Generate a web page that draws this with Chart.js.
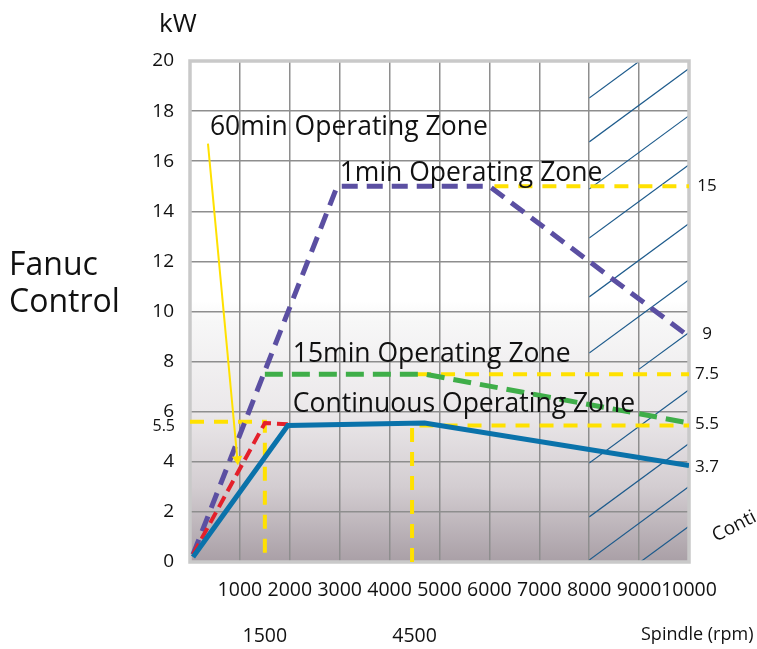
<!DOCTYPE html>
<html>
<head>
<meta charset="utf-8">
<script src="https://cdn.jsdelivr.net/npm/chart.js@4.4.0/dist/chart.umd.min.js"></script>
<style>
  html, body { margin: 0; padding: 0; background: #fff; }
  #wrap { width: 757px; height: 649px; }
</style>
</head>
<body>
<div id="wrap"><canvas id="grafik" width="757" height="649"></canvas></div>
<script>
// values (rpm / kW)
const markRpm = [1500, 4500];

const contRpm = [60, 1960, 4700, 10000];
const contKw = [0.2, 5.45, 5.55, 3.85];

const redRpm = [60, 1500, 1960];
const redKw = [0.3, 5.55, 5.5];

const oneMinRpm = [60, 2950, 6000, 10000];
const oneMinKw = [0.3, 15, 15, 9];

const fifteenRpm = [1500, 4700, 10000];
const fifteenKw = [7.5, 7.5, 5.55];

const sixtyRpm = [360, 950];
const sixtyKw = [16.7, 4.1];

// yellow reference lines
const ref15Rpm = [6100, 10000];
const ref15Kw = [15, 15];
const ref75Rpm = [4550, 10000];
const ref75Kw = [7.5, 7.5];
const refLeftRpm = [0, 1500, 1500];
const refLeftKw = [5.6, 5.6, 0];
const refRightRpm = [4450, 4450, 10000];
const refRightKw = [0, 5.45, 5.45];

const rightLabels = ['15', '9', '7.5', '5.5', '3.7'];
const rightLabelKw = [15, 9.1, 7.5, 5.5, 3.8];

const zoneLabels = ['60min Operating Zone', '1min Operating Zone', '15min Operating Zone', 'Continuous Operating Zone'];
const zoneLabelRpm = [400, 3000, 2060, 2060];
const zoneLabelKw = [17.05, 15.2, 7.98, 5.99];

const FONT = '"Open Sans", "Noto Sans", sans-serif';

function gabung(xs, ys) {
  return xs.map((x, i) => ({ x: x, y: ys[i] }));
}

function garis(data, warna, lebar, dash, order) {
  return {
    data: data,
    showLine: true,
    borderColor: warna,
    backgroundColor: warna,
    borderWidth: lebar,
    borderDash: dash,
    borderCapStyle: 'butt',
    borderJoinStyle: 'miter',
    pointRadius: 0,
    tension: 0,
    order: order
  };
}

const latar = {
  id: 'latar',
  beforeDraw(chart) {
    const { ctx, chartArea: a } = chart;
    const g = ctx.createLinearGradient(0, a.top, 0, a.bottom);
    g.addColorStop(0, '#ffffff');
    g.addColorStop(0.48, '#ffffff');
    g.addColorStop(0.52, '#f7f7f7');
    g.addColorStop(0.7, '#ebe8ea');
    g.addColorStop(0.85, '#d3cdd1');
    g.addColorStop(1, '#a99fa6');
    ctx.save();
    ctx.fillStyle = g;
    ctx.fillRect(a.left, a.top, a.right - a.left, a.bottom - a.top);
    ctx.restore();
  }
};

// hatch lines over 8000-10000 rpm: start rpm, kW at start, rise over the rest
const hatchFrom = [8000, 8000, 8000, 8000, 8000, 8000, 9000, 8000, 8000, 8000, 8000];
const hatchKw = [18.52, 16.77, 14.89, 12.93, 10.58, 8.34, 7.7, 3.95, 1.8, 0.08, -1.5];

const arsir = {
  id: 'arsir',
  beforeDatasetsDraw(chart) {
    const { ctx, chartArea: a, scales } = chart;
    const x = scales.x, y = scales.y;
    const kiri = x.getPixelForValue(8000);
    ctx.save();
    ctx.beginPath();
    ctx.rect(kiri, a.top, a.right - kiri, a.bottom - a.top);
    ctx.clip();
    ctx.strokeStyle = '#1d5b8c';
    ctx.lineWidth = 1.2;
    hatchFrom.forEach((r, i) => {
      const k2 = hatchKw[i] + 2.93 * (10000 - r) / 2000;
      ctx.beginPath();
      ctx.moveTo(x.getPixelForValue(r), y.getPixelForValue(hatchKw[i]));
      ctx.lineTo(x.getPixelForValue(10000), y.getPixelForValue(k2));
      ctx.stroke();
    });
    ctx.restore();
    // frame
    ctx.save();
    ctx.strokeStyle = '#c9c9c9';
    ctx.lineWidth = 3.5;
    ctx.strokeRect(a.left, a.top, a.right - a.left, a.bottom - a.top);
    ctx.restore();
  }
};

const tulisan = {
  id: 'tulisan',
  afterDraw(chart) {
    const { ctx, chartArea: a, scales } = chart;
    const x = scales.x, y = scales.y;
    ctx.save();
    ctx.fillStyle = '#111';
    ctx.textBaseline = 'alphabetic';
    ctx.textAlign = 'left';
    ctx.font = '26.5px ' + FONT;
    zoneLabels.forEach((t, i) => {
      ctx.fillText(t, x.getPixelForValue(zoneLabelRpm[i]), y.getPixelForValue(zoneLabelKw[i]));
    });

    ctx.font = '17px ' + FONT;
    ctx.textAlign = 'center';
    ctx.textBaseline = 'middle';
    rightLabels.forEach((t, i) => {
      ctx.fillText(t, a.right + 18, y.getPixelForValue(rightLabelKw[i]));
    });
    ctx.font = '16px ' + FONT;
    ctx.textAlign = 'right';
    ctx.fillText('5.5', a.left - 15, y.getPixelForValue(5.6) + 5);

    ctx.textAlign = 'left';
    ctx.textBaseline = 'alphabetic';
    ctx.font = '26px ' + FONT;
    ctx.fillText('kW', a.left - 31, 32);

    ctx.font = '32px ' + FONT;
    ctx.fillText('Fanuc', 9, 275);
    ctx.fillText('Control', 9, 312);

    ctx.font = '18px ' + FONT;
    ctx.textBaseline = 'middle';
    ctx.fillText('Spindle (rpm)', a.right - 48, 635);

    ctx.translate(716, 542);
    ctx.rotate(-27 * Math.PI / 180);
    ctx.font = '19px ' + FONT;
    ctx.textBaseline = 'alphabetic';
    ctx.fillText('Conti', 0, 0);
    ctx.restore();
  }
};

const panah = garis(gabung(sixtyRpm, sixtyKw), '#ffe100', 2, [], 1);
panah.pointRadius = [0, 6];
panah.pointStyle = 'triangle';
panah.pointRotation = 175;
panah.pointBorderWidth = 0;

new Chart(document.getElementById('grafik'), {
  type: 'scatter',
  data: {
    datasets: [
      garis(gabung(contRpm, contKw), '#0a72aa', 5, [], 0),
      panah,
      garis(gabung(redRpm, redKw), '#e4202b', 4, [12, 6], 2),
      garis(gabung(oneMinRpm, oneMinKw), '#5b4fa2', 5, [16, 9], 3),
      garis(gabung(fifteenRpm, fifteenKw), '#3fae49', 5, [18, 9], 4),
      garis(gabung(ref15Rpm, ref15Kw), '#ffe100', 4, [14, 10], 5),
      garis(gabung(ref75Rpm, ref75Kw), '#ffe100', 4, [14, 10], 5),
      garis(gabung(refLeftRpm, refLeftKw), '#ffe100', 4, [14, 10], 5),
      garis(gabung(refRightRpm, refRightKw), '#ffe100', 4, [14, 10], 5)
    ]
  },
  options: {
    responsive: false,
    animation: false,
    layout: { padding: { left: 0, top: 61, right: 68, bottom: 0 } },
    plugins: {
      legend: { display: false },
      tooltip: { enabled: false }
    },
    scales: {
      x: {
        type: 'linear',
        position: 'bottom',
        min: 0,
        max: 10000,
        weight: 0,
        afterFit: s => { s.height = 45; },
        grid: { color: '#8e8e8e', lineWidth: 1.5, drawTicks: false },
        border: { display: false },
        ticks: {
          stepSize: 1000,
          padding: 17,
          color: '#111',
          font: { family: FONT, size: 19.5 },
          maxRotation: 0,
          autoSkip: false,
          callback: v => (v === 0 ? '' : String(v))
        }
      },
      x2: {
        type: 'linear',
        position: 'bottom',
        min: 0,
        max: 10000,
        weight: 1,
        afterFit: s => { s.height = 42; },
        afterBuildTicks: s => { s.ticks = markRpm.map(v => ({ value: v })); },
        grid: { display: false, drawTicks: false },
        border: { display: false },
        ticks: {
          padding: 18,
          color: '#111',
          font: { family: FONT, size: 19.5 },
          maxRotation: 0,
          autoSkip: false,
          callback: v => String(v)
        }
      },
      y: {
        type: 'linear',
        min: 0,
        max: 20,
        afterFit: s => { s.width = 190; },
        grid: { color: '#8e8e8e', lineWidth: 1.5, drawTicks: false },
        border: { display: false },
        ticks: {
          stepSize: 2,
          padding: 16,
          color: '#111',
          font: { family: FONT, size: 19 }
        }
      }
    }
  },
  plugins: [latar, arsir, tulisan]
});
</script>
</body>
</html>
